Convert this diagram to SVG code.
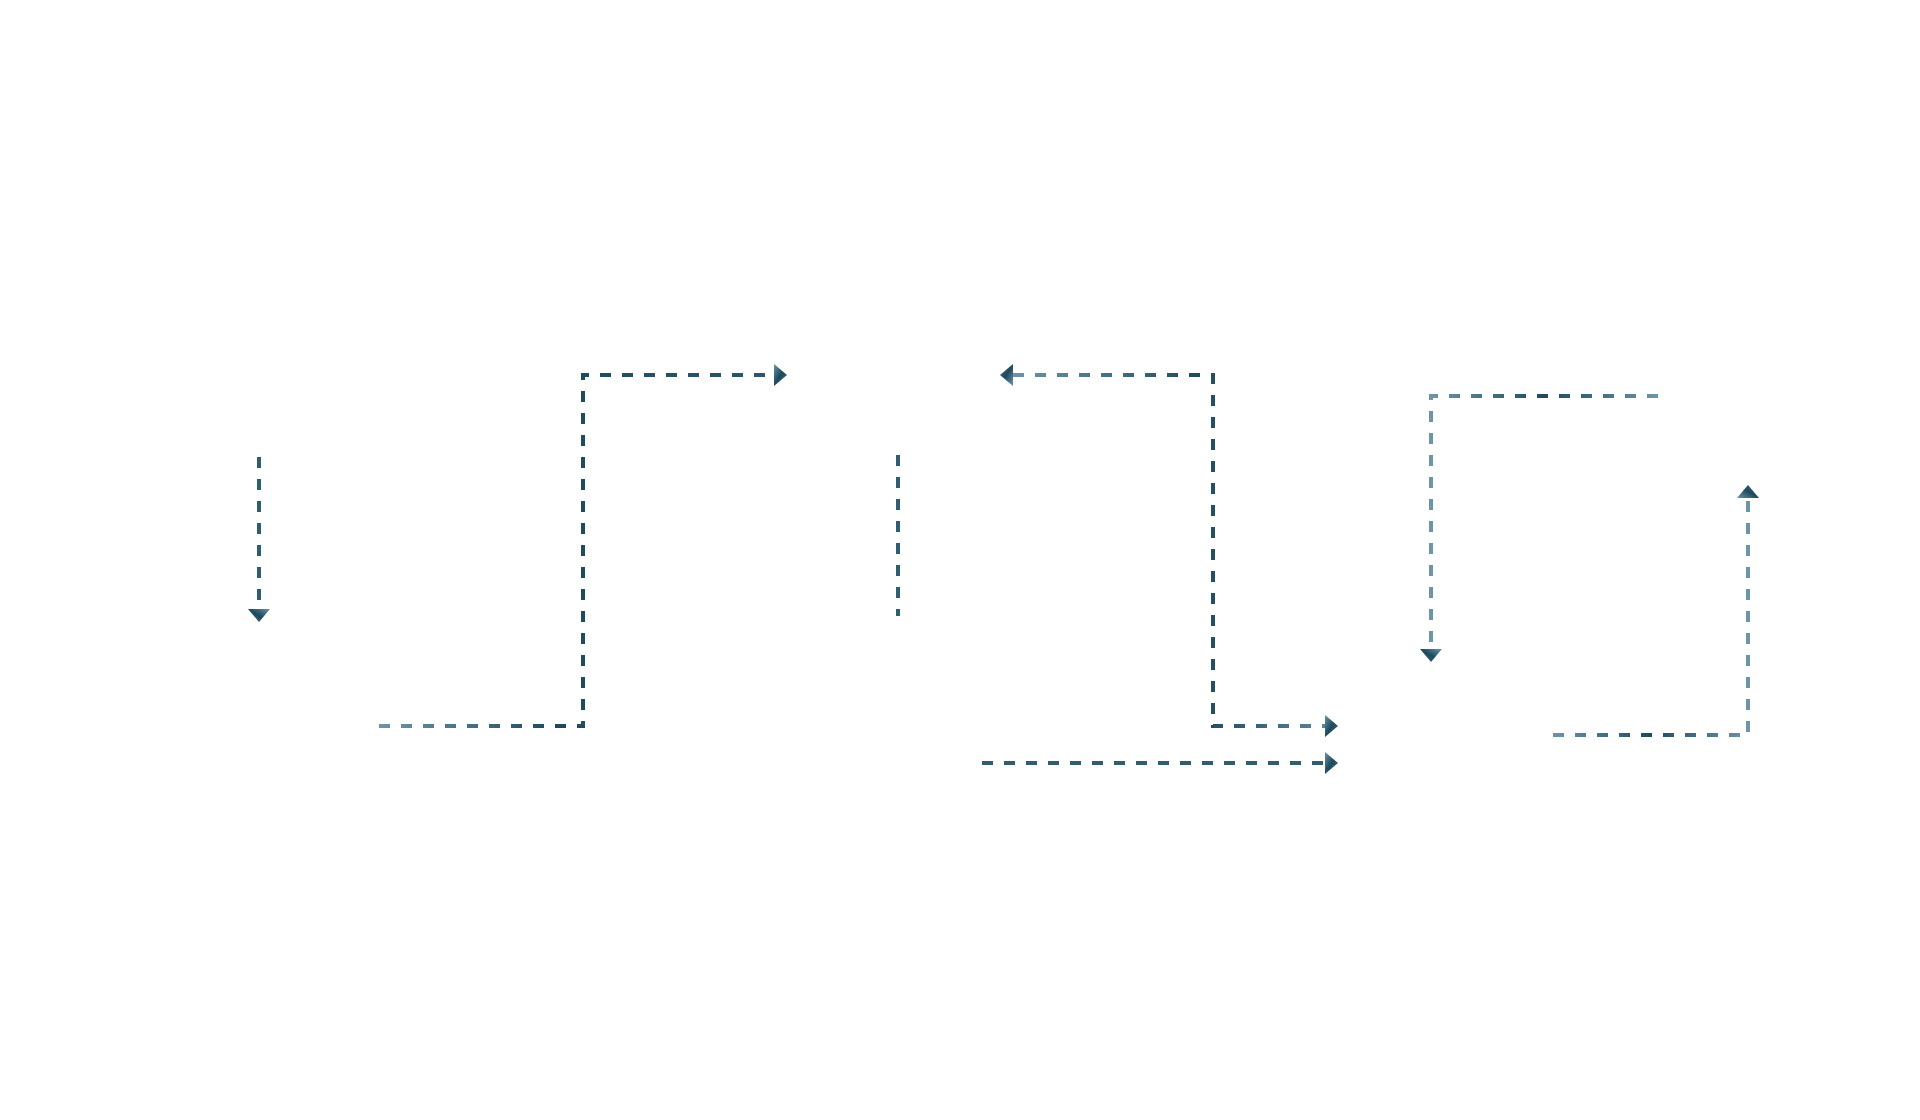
<svg xmlns="http://www.w3.org/2000/svg" width="1920" height="1120" viewBox="0 0 1920 1120">
  <style>
    .conn { fill: none; stroke-width: 4; stroke-dasharray: 11 11; }
    .solid { stroke: #2f5d72; }
  </style>
  <defs>
    <linearGradient id="gA" x1="0" y1="0" x2="1" y2="0">
      <stop offset="0" stop-color="#6d95aa"/>
      <stop offset="0.45" stop-color="#1f4a5e"/>
      <stop offset="1" stop-color="#2c586c"/>
    </linearGradient>
    <linearGradient id="gB" x1="0" y1="0" x2="1" y2="0">
      <stop offset="0" stop-color="#6d95aa"/>
      <stop offset="0.6" stop-color="#1f4a5e"/>
      <stop offset="1" stop-color="#5a8499"/>
    </linearGradient>
    <linearGradient id="gC" x1="0" y1="0" x2="1" y2="0">
      <stop offset="0" stop-color="#6d95aa"/>
      <stop offset="0.5" stop-color="#1f4a5e"/>
      <stop offset="1" stop-color="#6d95aa"/>
    </linearGradient>
    <linearGradient id="gHead" x1="0" y1="0" x2="1" y2="1">
      <stop offset="0" stop-color="#6d95aa"/>
      <stop offset="0.5" stop-color="#1f4a5e"/>
      <stop offset="1" stop-color="#3d6a80"/>
    </linearGradient>
    <marker id="arrow" markerUnits="userSpaceOnUse" markerWidth="14" markerHeight="22" viewBox="0 0 13 22" refX="0" refY="11" orient="auto-start-reverse">
      <path d="M0,0 L13,11 L0,22 Z" fill="url(#gHead)"/>
    </marker>
  </defs>
  <rect width="1920" height="1120" fill="#ffffff"/>
  <g id="connectors">
    <path id="c1" class="conn solid" d="M259,457 L259,609" marker-end="url(#arrow)"/>
    <path id="c2" class="conn" stroke="url(#gA)" d="M379,726 L583,726 L583,375 L774,375" marker-end="url(#arrow)"/>
    <path id="c3" class="conn solid" d="M898,455 L898,616"/>
    <path id="c4" class="conn" stroke="url(#gB)" d="M1013,375 L1213,375 L1213,726 L1325,726" marker-start="url(#arrow)" marker-end="url(#arrow)"/>
    <path id="c5" class="conn solid" d="M982,763 L1325,763" marker-end="url(#arrow)"/>
    <path id="c6" class="conn" stroke="url(#gC)" d="M1658,396 L1431,396 L1431,649" marker-end="url(#arrow)"/>
    <path id="c7" class="conn" stroke="url(#gC)" d="M1553,735 L1748,735 L1748,498" marker-end="url(#arrow)"/>
  </g>
</svg>
